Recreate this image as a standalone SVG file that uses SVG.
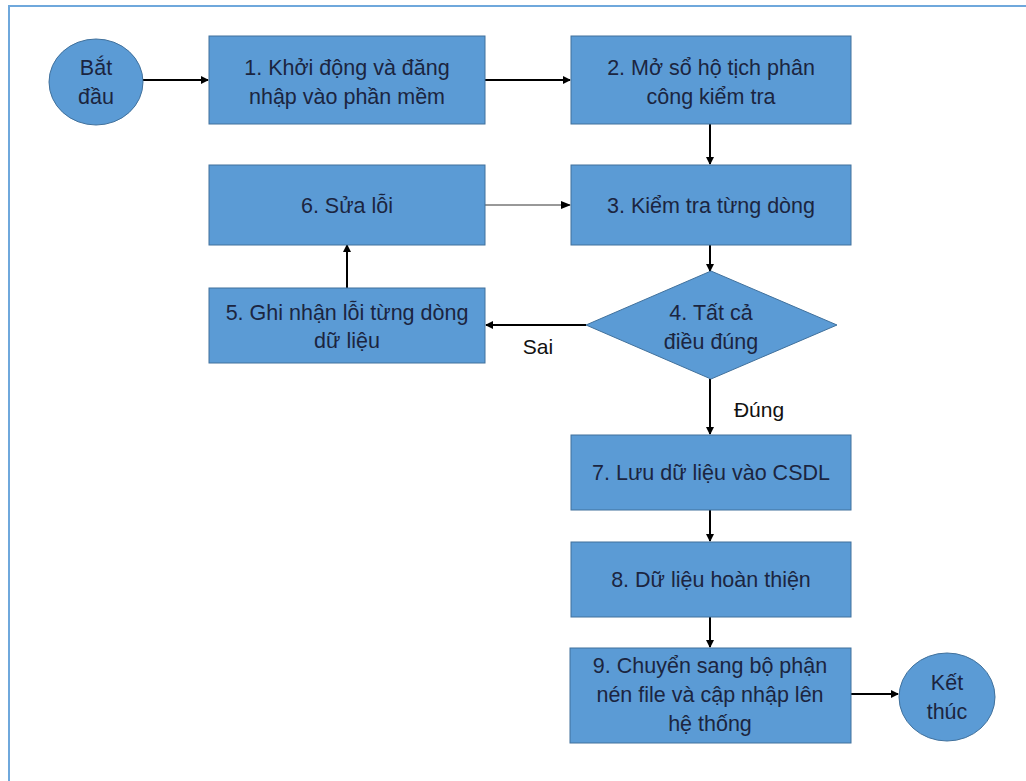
<svg xmlns="http://www.w3.org/2000/svg" width="1026" height="781" viewBox="0 0 1026 781">
<style>
.box{fill:#5B9BD5;stroke:#41719C;stroke-width:1}
.t{font-family:"Liberation Sans","Noto Sans",Arial,sans-serif;font-size:21.5px;fill:#1B2540;text-anchor:middle}
.lbl{font-family:"Liberation Sans","Noto Sans",Arial,sans-serif;font-size:21px;fill:#111;text-anchor:middle}
.c{stroke:#000;stroke-width:2;fill:none;marker-end:url(#ah)}
.c1{stroke:#333;stroke-width:1;fill:none;marker-end:url(#ah2)}
</style>
<defs>
<marker id="ah" markerWidth="8" markerHeight="8" refX="7" refY="4" orient="auto" markerUnits="userSpaceOnUse"><path d="M0,0 L8,4 L0,8 z" fill="#000"/></marker>
<marker id="ah2" markerWidth="10" markerHeight="8" refX="9" refY="4" orient="auto" markerUnits="userSpaceOnUse"><path d="M0,0 L10,4 L0,8 z" fill="#000"/></marker>
</defs>
<rect x="0" y="0" width="1026" height="781" fill="#fff"/>
<rect x="9" y="6" width="1030" height="800" fill="none" stroke="#6FA8DC" stroke-width="2"/>
<g id="connectors">
<line class="c" x1="143" y1="80" x2="208" y2="80"/>
<line class="c" x1="485" y1="80" x2="570" y2="80"/>
<line class="c" x1="710" y1="124" x2="710" y2="164"/>
<line class="c1" x1="485" y1="205" x2="570" y2="205"/>
<line class="c" x1="710" y1="245" x2="710" y2="271"/>
<line class="c" x1="586" y1="325" x2="486" y2="325"/>
<line class="c" x1="347" y1="288" x2="347" y2="245"/>
<line class="c" x1="710" y1="379" x2="710" y2="434"/>
<line class="c" x1="710" y1="510" x2="710" y2="541"/>
<line class="c" x1="710" y1="617" x2="710" y2="647"/>
<line class="c" x1="851" y1="694" x2="898" y2="694"/>
<text class="lbl" x="538" y="354">Sai</text>
<text class="lbl" x="759" y="417">Đúng</text>
</g>
<g id="start"><ellipse class="box" cx="96" cy="82" rx="47" ry="43"/><text class="t" x="96" y="75">Bắt</text><text class="t" x="96" y="104">đầu</text></g>
<g id="n1"><rect class="box" x="209" y="36" width="276" height="88"/><text class="t" x="347" y="75">1. Khởi động và đăng</text><text class="t" x="347" y="104">nhập vào phần mềm</text></g>
<g id="n2"><rect class="box" x="571" y="36" width="280" height="88"/><text class="t" x="711" y="75">2. Mở sổ hộ tịch phân</text><text class="t" x="711" y="104">công kiểm tra</text></g>
<g id="n3"><rect class="box" x="571" y="165" width="280" height="80"/><text class="t" x="711" y="213">3. Kiểm tra từng dòng</text></g>
<g id="n6"><rect class="box" x="209" y="165" width="276" height="80"/><text class="t" x="347" y="213">6. Sửa lỗi</text></g>
<g id="n4"><polygon class="box" points="711,271 837,325 711,379 586,325"/><text class="t" x="711" y="320">4. Tất cả</text><text class="t" x="711" y="349">điều đúng</text></g>
<g id="n5"><rect class="box" x="209" y="288" width="276" height="75"/><text class="t" x="347" y="320">5. Ghi nhận lỗi từng dòng</text><text class="t" x="347" y="348">dữ liệu</text></g>
<g id="n7"><rect class="box" x="571" y="435" width="280" height="75"/><text class="t" x="711" y="480">7. Lưu dữ liệu vào CSDL</text></g>
<g id="n8"><rect class="box" x="571" y="542" width="280" height="75"/><text class="t" x="711" y="587">8. Dữ liệu hoàn thiện</text></g>
<g id="n9"><rect class="box" x="570" y="648" width="281" height="95"/><text class="t" x="710" y="673">9. Chuyển sang bộ phận</text><text class="t" x="710" y="702">nén file và cập nhập lên</text><text class="t" x="710" y="731">hệ thống</text></g>
<g id="end"><ellipse class="box" cx="947" cy="697" rx="48" ry="44"/><text class="t" x="947" y="690">Kết</text><text class="t" x="947" y="719">thúc</text></g>
</svg>
